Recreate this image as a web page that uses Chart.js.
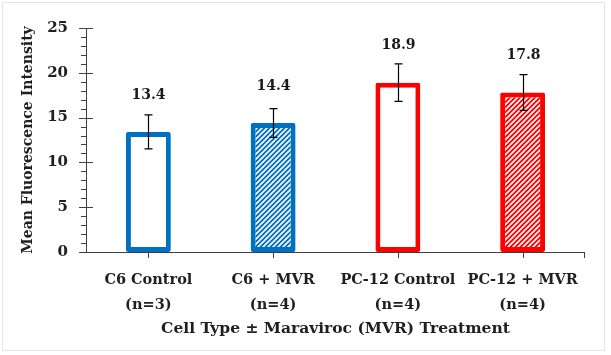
<!DOCTYPE html>
<html>
<head>
<meta charset="utf-8">
<script src="https://cdn.jsdelivr.net/npm/chart.js@4"></script>
<style>
html,body{margin:0;padding:0;background:#fff;}
#wrap{position:relative;width:611px;height:355px;}
#frame{position:absolute;left:2px;top:2px;width:603px;height:349px;border:1px solid #e4e4e4;box-sizing:border-box;pointer-events:none;}
</style>
</head>
<body>
<div id="wrap"><canvas id="c" width="611" height="355"></canvas><div id="frame"></div></div>
<script>
const categories = [['C6 Control','(n=3)'],['C6 + MVR','(n=4)'],['PC-12 Control','(n=4)'],['PC-12 + MVR','(n=4)']];
const meanValues = [13.4, 14.4, 18.9, 17.8];
const errorValues = [1.9, 1.6, 2.1, 2.0];
const valueLabels = ['13.4','14.4','18.9','17.8'];
const yTicks = [0,5,10,15,20,25];

const BLUE = '#0070C0', RED = '#FF0000';
function hatch(color){
  const s = 5, cv = document.createElement('canvas');
  cv.width = s; cv.height = s;
  const g = cv.getContext('2d');
  g.fillStyle = color; g.fillRect(0,0,s,s);
  g.strokeStyle = '#ffffff'; g.lineWidth = 1.6;
  g.beginPath();
  g.moveTo(-1, s+1); g.lineTo(s+1, -1);
  g.moveTo(-1, 1); g.lineTo(1, -1);
  g.moveTo(s-1, s+1); g.lineTo(s+1, s-1);
  g.stroke();
  return g.createPattern(cv, 'repeat');
}
const ctx0 = document.getElementById('c').getContext('2d');
const fills = ['#ffffff', hatch(BLUE), '#ffffff', hatch(RED)];
const borders = [BLUE, BLUE, RED, RED];

const FONT = "'DejaVu Serif', serif";
const AX = '#404040';

const decor = {
  id:'decor',
  afterDatasetsDraw(chart){
    const c = chart.ctx, y = chart.scales.y, x = chart.scales.x;
    const L = chart.chartArea.left, B = chart.chartArea.bottom, R = chart.chartArea.right;
    c.save();
    c.strokeStyle = AX; c.lineWidth = 1;
    c.beginPath(); c.moveTo(L+0.5, y.getPixelForValue(25)); c.lineTo(L+0.5, B); c.stroke();
    for(let v=0; v<=25; v++){
      const py = Math.round(y.getPixelForValue(v))+0.5;
      c.beginPath();
      if(v%5===0){ c.moveTo(L-7, py); c.lineTo(L+7, py); }
      else { c.moveTo(L-5, py); c.lineTo(L, py); }
      c.stroke();
    }
    c.beginPath(); c.moveTo(L, B+0.5); c.lineTo(R, B+0.5); c.stroke();
    meanValues.forEach((v,i)=>{
      const px = Math.round(x.getPixelForValue(i))+0.5;
      c.beginPath(); c.moveTo(px, B); c.lineTo(px, B+6); c.stroke();
    });
    c.beginPath(); c.moveTo(R-0.5, B); c.lineTo(R-0.5, B+6); c.stroke();
    c.strokeStyle = '#000'; c.lineWidth = 1.2;
    c.fillStyle = '#1a1a1a';
    c.font = "bold 14px " + FONT;
    c.textAlign = 'center'; c.textBaseline = 'middle';
    meanValues.forEach((v,i)=>{
      const px = Math.round(x.getPixelForValue(i))+0.5;
      const t = y.getPixelForValue(v+errorValues[i]);
      const b = y.getPixelForValue(v-errorValues[i]);
      c.beginPath();
      c.moveTo(px, t); c.lineTo(px, b);
      c.moveTo(px-4, t); c.lineTo(px+4, t);
      c.moveTo(px-4, b); c.lineTo(px+4, b);
      c.stroke();
      c.fillText(valueLabels[i], px, y.getPixelForValue(v) - 37);
    });
    c.restore();
  }
};

new Chart(ctx0, {
  type:'bar',
  data:{
    labels: categories,
    datasets:[{
      data: meanValues,
      backgroundColor: fills,
      borderColor: borders,
      borderWidth: 5,
      borderRadius: 2,
      borderSkipped: false,
      categoryPercentage: 1,
      barPercentage: 0.36
    }]
  },
  options:{
    responsive:false,
    animation:false,
    devicePixelRatio:1,
    layout:{padding:{left:0, right:26, top:28, bottom:0}},
    plugins:{legend:{display:false}, tooltip:{enabled:false}},
    scales:{
      y:{
        min:0, max:25,
        afterFit(s){ s.width = 86; },
        afterBuildTicks(s){ s.ticks = yTicks.map(v=>({value:v})); },
        border:{display:false},
        grid:{display:false, drawTicks:false},
        ticks:{padding:18, color:'#1f1f1f', font:{family:FONT, size:15, weight:'bold'}},
        title:{display:true, text:'Mean Fluorescence Intensity', color:'#1f1f1f',
               font:{family:FONT, size:14, weight:'bold'}, padding:{top:20, bottom:0}}
      },
      x:{
        afterFit(s){ s.height = 103; },
        border:{display:false},
        grid:{display:false, drawTicks:false},
        ticks:{padding:16, color:'#1f1f1f', maxRotation:0, autoSkip:false,
               font:{family:FONT, size:14.5, weight:'bold', lineHeight:1.72}},
        title:{display:true, text:'Cell Type ± Maraviroc (MVR) Treatment', color:'#1f1f1f',
               font:{family:FONT, size:15.5, weight:'bold'}, padding:{top:0, bottom:17}}
      }
    }
  },
  plugins:[decor]
});
</script>
</body>
</html>
